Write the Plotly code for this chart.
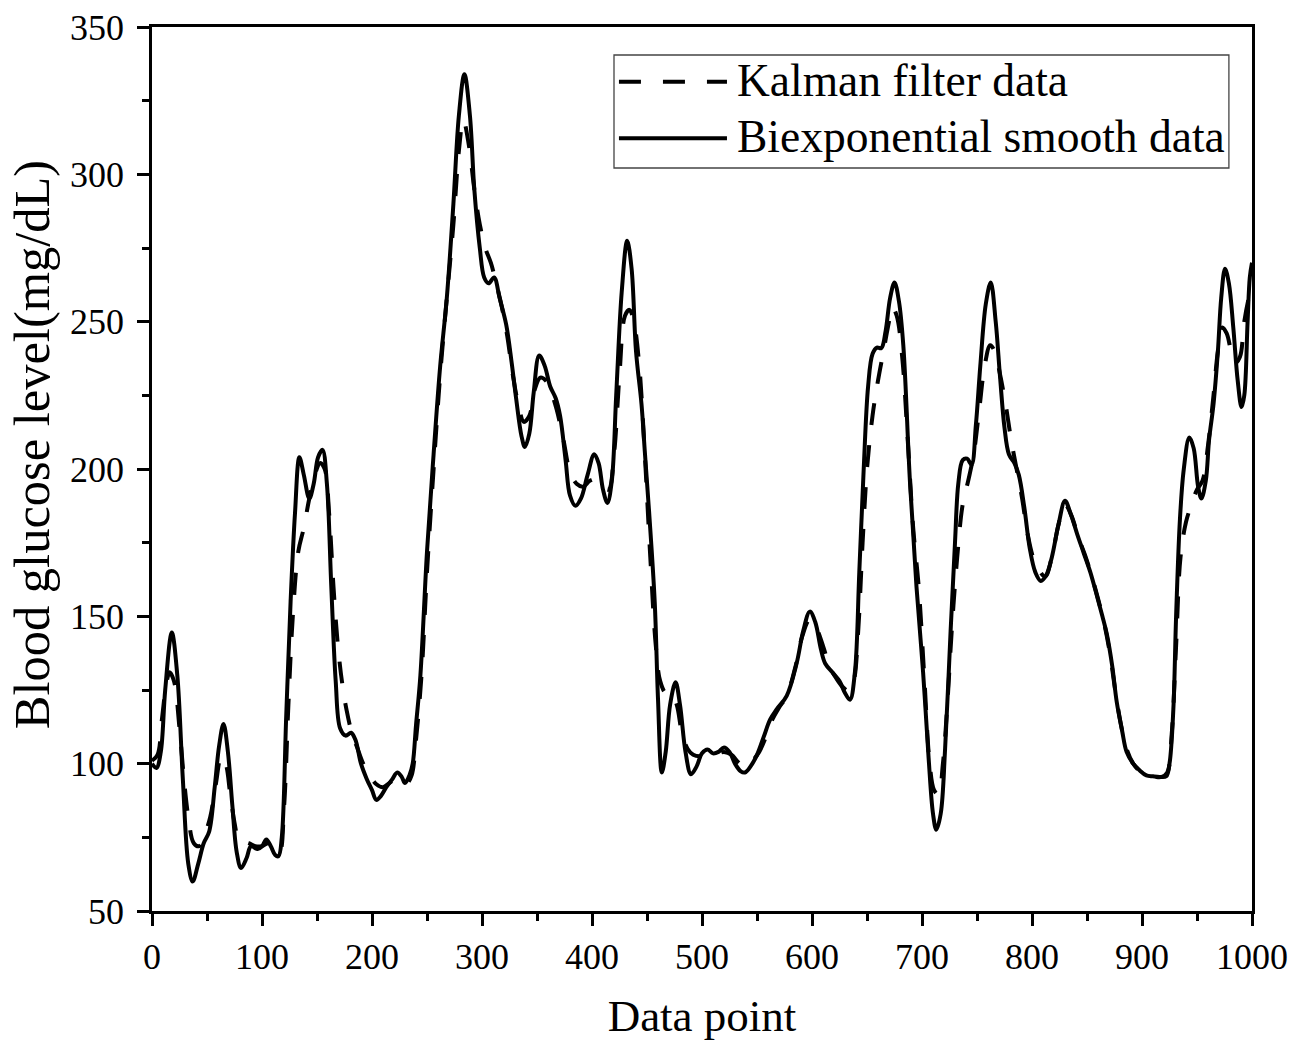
import plotly.graph_objects as go

# ---- data ----
bi_x = [0, 4, 8, 12, 18, 23, 28, 33, 37, 42, 47, 52, 57, 61, 65, 69, 73, 77, 81, 86,
        90, 96, 100, 104, 108, 112, 115, 118, 122, 126, 130, 134, 138, 143, 147, 151, 155, 159, 163, 167,
        171, 176, 181, 185, 190, 195, 200, 204, 208, 213, 218, 223, 227, 230, 234, 237, 240, 244, 250, 256,
        262, 268, 274, 279, 284, 289, 293, 298, 302, 306, 311, 316, 322, 327, 331, 336, 339, 343, 347, 352,
        357, 362, 367, 371, 376, 380, 385, 390, 396, 402, 406, 410, 414, 418, 422, 427, 432, 436, 440, 445,
        448, 452, 457, 460, 463.5, 467, 471, 476, 480, 485, 490, 495, 500, 505, 510, 515, 520, 525, 530, 535,
        539, 544, 550, 556, 562, 568, 577, 586, 592, 598, 603, 608, 612, 619, 625, 630, 634.5, 639, 643, 647,
        651, 655, 659, 663, 667, 671, 675, 679, 683, 689, 695, 701, 706, 710, 713, 717, 721, 726, 730, 733,
        737, 741, 745, 749, 753, 758, 762.5, 767, 771, 775, 779, 784, 788, 793, 798, 803, 808, 813, 818, 824,
        830, 835, 841, 847, 853, 859, 864, 868, 873, 877, 882, 886, 892, 898, 904, 910, 916, 922, 925, 928.5,
        931, 934.5, 938, 943, 947, 951, 954, 958, 961, 965, 969, 972, 975.5, 979, 983, 987, 990.5, 993, 996, 998,
        1000]
bi_y = [100, 98.5, 104, 125, 144.5, 130, 95, 66, 60, 66, 73, 77, 92, 106, 113.5, 104, 86, 70, 64.6, 68,
        72, 71, 72, 74.3, 72, 69, 68.6, 75, 116, 155, 185, 204, 198, 190, 195, 204, 206.5, 195, 160, 128,
        112, 109.5, 110.5, 108, 100, 95, 91, 87.7, 89, 92, 94.5, 97, 95.5, 93.4, 96, 100, 113, 130, 172, 205,
        235, 258, 290, 320, 334, 320, 295, 275, 265, 263, 265, 258, 249, 236, 224, 211, 207.5, 212, 226, 238.5,
        235, 228, 224, 218, 203, 191, 187.5, 190, 198, 205, 202, 193, 188.5, 196, 225, 260, 277.5, 268, 240, 222,
        206, 185, 155, 122, 97, 104, 120, 127.6, 120, 104, 96.4, 99, 103.5, 104.8, 103.5, 104, 105.5, 104, 100, 97.5,
        97, 99, 103, 109, 115, 118.5, 123, 134, 145, 151.6, 148, 139, 134, 130.8, 128, 124, 121.7, 131, 165, 200,
        228, 239, 241.2, 241, 247, 258, 263.3, 257, 242, 196, 160, 131, 102, 83, 77.6, 83, 105, 145, 175, 195,
        203, 203.5, 201.5, 215, 235, 256, 263.3, 250, 231, 214, 205, 202, 198, 187, 173, 165, 162, 164, 170, 181,
        189.2, 185, 178, 171.5, 165, 157, 150, 144, 133, 121, 111, 104, 100, 97.7, 96, 95.7, 95.5, 95.7, 100, 118.5,
        150, 183, 200, 210.7, 207, 194, 190, 196, 210, 222, 240, 258, 268, 263, 248, 230, 221, 225, 250, 265,
        270]

kf_x = [0, 5, 9, 13, 16, 20, 25, 29, 33, 38, 43, 48, 53, 58, 63, 67, 71, 75, 79, 83,
        88, 94, 100, 106, 112, 116, 120, 124, 128, 133, 138, 143, 148, 153, 157, 161, 165, 169, 173, 177,
        182, 187, 192, 198, 204, 210, 216, 222, 227, 232, 236, 240, 245, 250, 256, 262, 268, 274, 279, 283,
        288, 293, 298, 303, 308, 313, 318, 323, 328, 333, 338, 343, 348, 353, 358, 363, 368, 374, 380, 386,
        392, 398, 404, 410, 415, 420, 425, 430, 434, 438, 443, 448, 453, 458, 462, 467, 472, 477, 482, 487,
        492, 498, 505, 512, 520, 527, 533, 540, 546, 552, 558, 564, 570, 577, 585, 591, 598, 604, 610, 616,
        622, 628, 634, 638, 642, 646, 650, 655, 660, 665, 670, 673, 677, 682, 687, 692, 697, 702, 707, 711,
        715, 719, 723, 727, 732, 737, 742, 747, 752, 757, 762, 766, 771, 776, 781, 786, 791, 796, 801, 806,
        812, 818, 824, 830, 836, 842, 848, 854, 860, 866, 871, 876, 881, 886, 892, 898, 905, 912, 918, 923,
        927, 931, 935, 940, 945, 950, 955, 960, 965, 969, 973, 977, 981, 985, 989, 993, 997, 1000]
kf_y = [101, 103, 115, 127, 131, 128, 112, 95, 82, 73, 72, 76, 82, 93, 102.5, 100, 90, 80, 74, 73.5,
        73, 72, 72, 73, 71, 70, 85, 120, 150, 172, 180, 190, 198, 202, 200, 185, 160, 140, 127, 118,
        110, 105, 100, 96, 93, 92, 93.5, 95, 95, 93.5, 96, 108, 130, 165, 200, 232, 258, 283, 308, 318.5,
        310, 295, 283, 275, 270, 263, 255, 245, 232, 222, 216, 218, 227, 231, 230, 226, 220, 210, 199, 195,
        194, 196, 196.5, 194, 193, 205, 232, 252, 254, 250, 235, 205, 170, 140, 128, 124, 124, 120, 110, 105,
        103, 102.5, 103, 103, 104, 103, 100.5, 99, 101, 104, 109, 115, 119, 123, 133, 143, 149, 146, 140, 133,
        129, 126, 124.5, 128, 145, 175, 200, 218, 230, 240, 250, 255, 252, 238, 210, 180, 160, 130, 100, 91,
        89.5, 100, 120, 145, 170, 188, 196, 205, 220, 235, 242, 240, 232, 222, 210, 200, 190, 178, 170, 166,
        163.5, 170, 181, 188, 184, 177, 171, 164, 156, 147, 137, 124, 113, 105, 100, 97.5, 96, 95.5, 95.5, 97,
        110, 140, 170, 182, 188, 193, 196, 208, 225, 240, 248, 246, 240, 236, 238, 250, 258, 262]

series_names = ["Kalman filter data", "Biexponential smooth data"]
x_tick_vals = [0, 100, 200, 300, 400, 500, 600, 700, 800, 900, 1000]
y_tick_vals = [50, 100, 150, 200, 250, 300, 350]

FONT = "Liberation Serif, Times New Roman, serif"

fig = go.Figure()
fig.add_trace(go.Scatter(x=kf_x, y=kf_y, mode="lines", name=series_names[0],
                         line=dict(color="black", width=4, dash="22px,20px", shape="spline", smoothing=1.0),
                         showlegend=False))
fig.add_trace(go.Scatter(x=bi_x, y=bi_y, mode="lines", name=series_names[1],
                         line=dict(color="black", width=4, shape="spline", smoothing=1.0),
                         showlegend=False))

axis_common = dict(showline=True, linecolor="black", linewidth=2.5, mirror=True,
                   ticks="outside", ticklen=12, tickwidth=2.5, tickcolor="black",
                   showgrid=False, zeroline=False, automargin=False,
                   tickfont=dict(family=FONT, size=36, color="black"))

fig.update_xaxes(range=[0, 1000], tickvals=x_tick_vals,
                 minor=dict(ticks="outside", ticklen=7, tickwidth=2.5, tickcolor="black", dtick=50, tick0=0),
                 title=dict(text="Data point", font=dict(family=FONT, size=45, color="black"), standoff=24),
                 **axis_common)
fig.update_yaxes(range=[50, 350], tickvals=y_tick_vals, ticklabelstandoff=6,
                 minor=dict(ticks="outside", ticklen=7, tickwidth=2.5, tickcolor="black", dtick=25, tick0=50),
                 **axis_common)

# legend drawn as a framed box in paper coordinates
shapes = [
    dict(type="rect", xref="paper", yref="paper", x0=0.42, x1=0.979, y0=0.8405, y1=0.9683,
         line=dict(color="#444444", width=1.3), fillcolor="white", layer="above"),
    dict(type="line", xref="paper", yref="paper", x0=0.4245, x1=0.5227, y0=0.9381, y1=0.9381,
         line=dict(color="black", width=4, dash="22px,22px"), layer="above"),
    dict(type="line", xref="paper", yref="paper", x0=0.4245, x1=0.5227, y0=0.8741, y1=0.8741,
         line=dict(color="black", width=4), layer="above"),
]
annotations = [
    dict(xref="paper", yref="paper", x=0.5300, y=0.9400, text=series_names[0], showarrow=False,
         xanchor="left", yanchor="middle", font=dict(family=FONT, size=45.5, color="black")),
    dict(xref="paper", yref="paper", x=0.5300, y=0.8760, text=series_names[1], showarrow=False,
         xanchor="left", yanchor="middle", font=dict(family=FONT, size=45.5, color="black")),
    dict(xref="paper", yref="paper", x=-0.1090, y=0.527, text="Blood glucose level(mg/dL)", showarrow=False,
         textangle=-90, xanchor="center", yanchor="middle", font=dict(family=FONT, size=50.5, color="black")),
]

fig.update_layout(width=1306, height=1042, autosize=False,
                  margin=dict(l=152, r=54, t=27, b=131),
                  paper_bgcolor="white", plot_bgcolor="white",
                  font=dict(family=FONT, color="black"),
                  shapes=shapes, annotations=annotations, showlegend=False)

fig.write_html("out.html")
